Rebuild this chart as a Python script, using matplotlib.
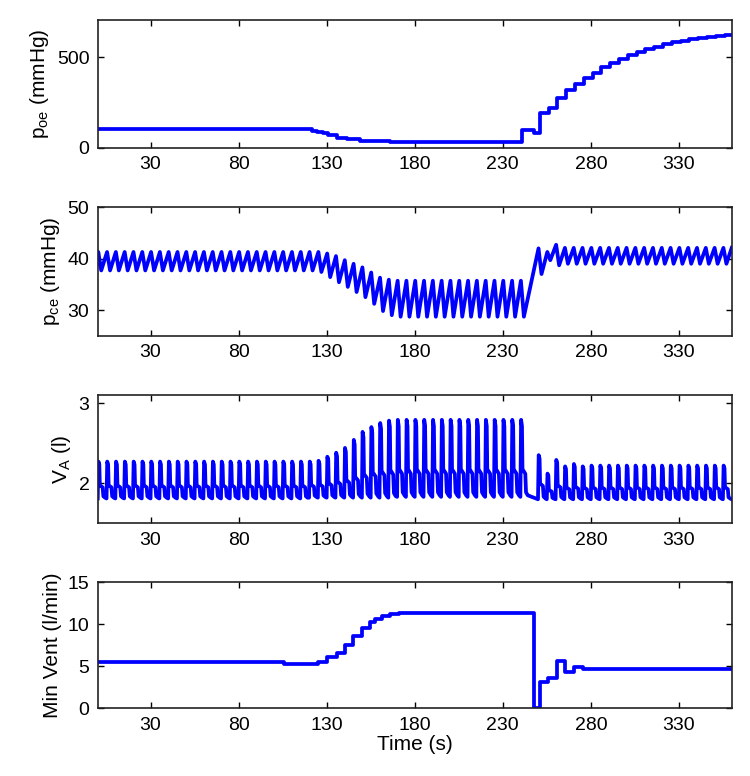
import numpy as np
import matplotlib
matplotlib.use("Agg")
import matplotlib.pyplot as plt

plt.rcParams["font.family"] = "Liberation Sans"
plt.rcParams["mathtext.fontset"] = "custom"
plt.rcParams["mathtext.rm"] = "Liberation Sans"
plt.rcParams["mathtext.it"] = "Liberation Sans"

# p_oe (mmHg): step changes (time, value)
poe_t = [0, 121.6, 124.4, 128.2, 131, 135.8, 141.4, 149, 166, 241, 247.6, 251.4, 256, 261, 266,
         271, 276, 281, 286, 291, 296, 301, 306, 311, 316, 321, 326, 331, 336, 341, 346, 351, 356, 360]
poe_v = [104, 95, 88, 81, 70, 57, 48, 38, 31, 99, 81, 191, 219, 275, 318,
         352, 385, 415, 445, 468, 490, 510, 528, 544, 558, 570, 581, 590, 598, 605, 612, 618, 624, 624]

# breath onsets (s): regular breathing, apnoea 245-250, then regular again
breath_t = list(range(0, 245, 5)) + list(range(250, 360, 5))

# p_ce (mmHg) per breath: high and low of each cycle
pce_hi = [41.3] * 25 + [41.3, 41.0, 40.5, 39.7, 39.0, 38.3, 37.3, 36.3, 35.9] + [35.7] * 15 \
    + [42.0, 41.3, 42.7] + [42.1] * 19
pce_lo = [37.7] * 25 + [37.4, 36.4, 35.4, 34.5, 33.5, 32.5, 31.2, 29.8, 29.0] + [28.7] * 15 \
    + [37.0, 39.7, 38.7] + [39.0] * 19

# V_A (l) per breath: peak and end-expiratory volume
va_peak = [2.27] * 24 + [2.27, 2.28, 2.33, 2.38, 2.44, 2.54, 2.64, 2.70, 2.75, 2.78] + [2.79] * 15 \
    + [2.35, 2.12, 2.29, 2.21, 2.24, 2.21] + [2.22] * 16
va_low = [1.81] * 24 + [1.82] * 10 + [1.83] * 15 + [1.80] * 22
# shape of one breath: time offset (s) and fraction of tidal swing
va_shape_dt = [0, 0.4, 0.9, 1.2, 2.8, 3.2, 4.2]
va_shape_fr = [0, 1.0, 0.92, 0.36, 0.30, 0.06, 0.02]

# minute ventilation (l/min): step changes
mv_t = [0, 105.5, 125.3, 130.2, 135.6, 140.5, 145.2, 150, 154.7, 157.6, 161.4, 166.2, 170.8,
        247.6, 250.9, 255.7, 260.8, 265.5, 270.6, 275.4, 360]
mv_v = [5.5, 5.3, 5.5, 6.1, 6.6, 7.5, 8.6, 9.6, 10.3, 10.6, 11.0, 11.2, 11.4,
        0, 3.1, 3.6, 5.6, 4.3, 4.9, 4.7, 4.7]

# assemble the breath-by-breath traces
pce_x, pce_y, va_x, va_y = [0], [39.0], [], []
for t0, hi, lo, pk, vl in zip(breath_t, pce_hi, pce_lo, va_peak, va_low):
    pce_x += [t0 + 0.3, t0 + 2.0]
    pce_y += [hi, lo]
    for dt, fr in zip(va_shape_dt, va_shape_fr):
        va_x.append(t0 + dt)
        va_y.append(vl + fr * (pk - vl))
pce_x.append(360)
pce_y.append(pce_hi[-1])
va_x.append(360)
va_y.append(va_low[-1])

fig = plt.figure(figsize=(7.5, 7.76), dpi=100)
left, width = 0.1303, 0.8453
rects = [(left, 0.8093, width, 0.165), (left, 0.5674, width, 0.1655),
         (left, 0.3256, width, 0.1654), (left, 0.0872, width, 0.1624)]
axes = [fig.add_axes(r) for r in rects]
lw = 2.7
blue = "#0000ff"

axes[0].plot(poe_t, poe_v, color=blue, lw=lw, drawstyle="steps-post")
axes[0].set_ylim(0, 705)
axes[0].set_yticks([0, 500])
axes[0].set_ylabel(r"p$_{\mathrm{oe}}$ (mmHg)")

axes[1].plot(pce_x, pce_y, color=blue, lw=lw)
axes[1].set_ylim(25, 50)
axes[1].set_yticks([30, 40, 50])
axes[1].set_ylabel(r"p$_{\mathrm{ce}}$ (mmHg)")

axes[2].plot(va_x, va_y, color=blue, lw=lw)
axes[2].set_ylim(1.5, 3.1)
axes[2].set_yticks([2, 3])
axes[2].set_ylabel(r"V$_{\mathrm{A}}$ (l)")

axes[3].plot(mv_t, mv_v, color=blue, lw=lw, drawstyle="steps-post")
axes[3].set_ylim(0, 15)
axes[3].set_yticks([0, 5, 10, 15])
axes[3].set_ylabel("Min Vent (l/min)")
axes[3].set_xlabel("Time (s)", labelpad=1)

for ax in axes:
    ax.set_xlim(0, 360)
    ax.set_xticks(np.arange(30, 360, 50))
    ax.tick_params(direction="in", top=True, right=True, length=4, width=1, labelsize=14, pad=6)
    ax.yaxis.label.set_size(15)
    ax.xaxis.label.set_size(15)
    for s in ax.spines.values():
        s.set_linewidth(1.2)
        s.set_color("#222222")

fig.align_ylabels(axes)
fig.savefig("out.png", dpi=100)
